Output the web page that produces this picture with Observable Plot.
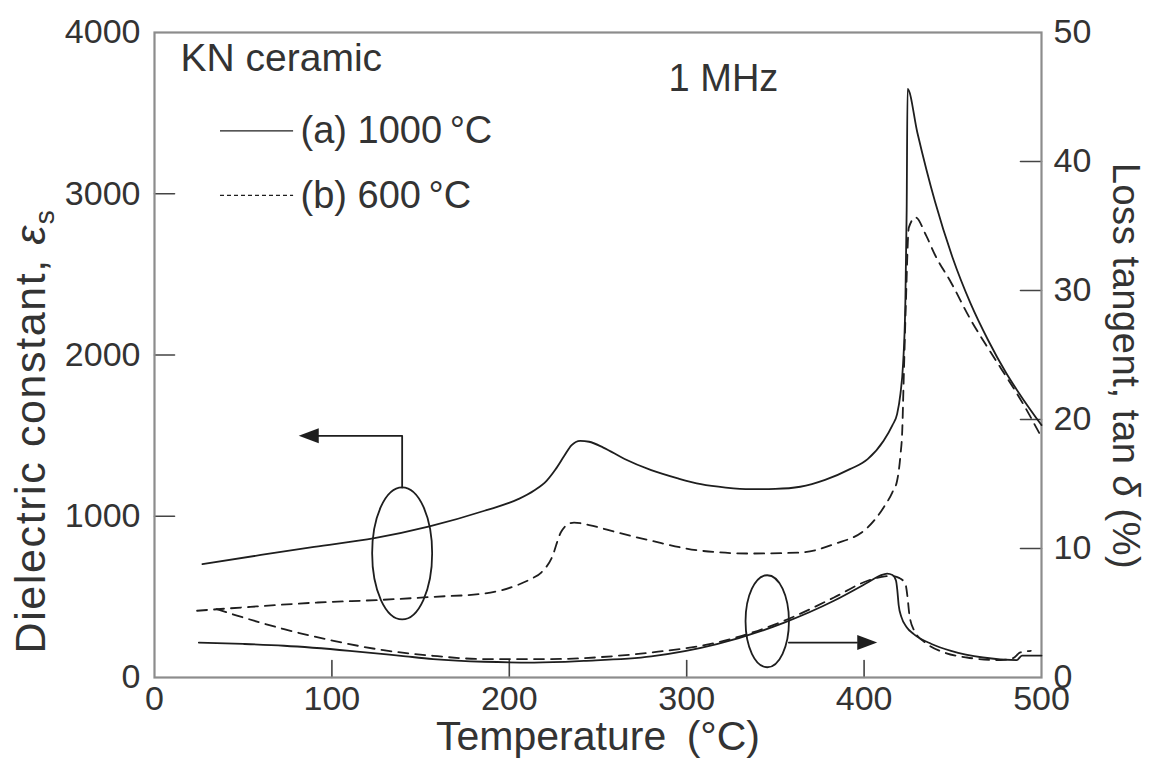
<!DOCTYPE html>
<html>
<head>
<meta charset="utf-8">
<script src="https://cdn.jsdelivr.net/npm/d3@7"></script>
<script src="https://cdn.jsdelivr.net/npm/@observablehq/plot@0.6"></script>
<style>
  body { margin: 0; background: #fff; }
</style>
</head>
<body>
<div id="chart"></div>
<script>
// KN ceramic, measured at 1 MHz: dielectric constant (left axis) and loss tangent (right axis)

// (a) sintered at 1000 °C — dielectric constant εs
const tempEpsA = [27, 60, 90, 124, 155, 186, 205, 214, 221, 226, 231, 235, 240, 245, 253, 265, 280, 295, 308, 322, 336, 350, 364, 378, 392, 402, 411, 416, 418.6, 420.5, 422, 423.2, 424, 424.5, 430, 440, 450, 460, 470, 480, 490, 500];
const epsA     = [703, 760, 810, 864, 937, 1034, 1106, 1160, 1220, 1290, 1375, 1440, 1468, 1462, 1426, 1355, 1286, 1235, 1199, 1178, 1168, 1170, 1183, 1225, 1292, 1354, 1468, 1565, 1633, 1760, 1950, 2300, 2900, 3650, 3380, 2950, 2600, 2320, 2090, 1890, 1720, 1565];

// (b) sintered at 600 °C — dielectric constant εs
const tempEpsB = [24, 54, 92, 129, 157, 186, 205, 212, 218, 224, 229, 233, 236.5, 245, 261, 280, 308, 336, 364, 383, 402, 411, 416, 418.6, 420.5, 421.5, 422.3, 423.5, 425.2, 429, 435, 440, 449, 460, 470, 477, 490, 500];
const epsB     = [414, 438, 465, 482, 500, 521, 575, 610, 651, 744, 899, 950, 961, 945, 899, 848, 786, 769, 775, 827, 930, 1054, 1150, 1220, 1380, 1530, 1840, 2300, 2790, 2853, 2740, 2620, 2450, 2220, 2040, 1920, 1690, 1490];

// (a) loss tangent tan δ (%)
const tempLossA = [25, 50, 73, 110, 139, 157, 186, 214, 242, 280, 317, 355, 383, 402, 409, 413, 416, 418, 418.7, 419.5, 421, 424, 428, 438, 449, 467, 486, 489, 500];
const lossA     = [2.71, 2.6, 2.46, 2.07, 1.68, 1.43, 1.22, 1.16, 1.29, 1.64, 2.59, 4.26, 5.95, 7.36, 7.9, 8.06, 7.95, 7.5, 6.8, 5.6, 4.7, 3.9, 3.36, 2.6, 2.07, 1.55, 1.35, 1.7, 1.7];

// (b) loss tangent tan δ (%)
const tempLossB = [35, 47, 73, 101, 129, 157, 186, 223, 261, 280, 317, 355, 383, 402, 410, 415, 420, 423.3, 424.5, 425.5, 428, 435.6, 445, 458, 477, 484, 488, 494];
const lossB     = [5.3, 4.78, 3.75, 2.84, 2.12, 1.68, 1.43, 1.43, 1.68, 1.94, 2.71, 4.4, 6.2, 7.5, 7.8, 7.88, 7.7, 7.24, 6.2, 4.9, 3.7, 2.59, 1.95, 1.55, 1.35, 1.5, 1.94, 2.07];

// Axis ticks
const tempTicks = [0, 100, 200, 300, 400, 500];
const epsTicks  = [0, 1000, 2000, 3000, 4000];
const lossTicks = [0, 10, 20, 30, 40, 50];

// Series labels
const seriesLabels = ["(a) 1000\u2009°C", "(b) 600\u2009°C"];

// Callouts: which group of curves belongs to which axis
const epsCalloutCenter  = [139.6, 770];   // temperature, εs
const epsArrowPath      = [[139.6, 1178], [139.6, 1499], [92, 1499]];
const epsArrowTip       = [81.3, 1499];
const lossCalloutCenter = [345.4, 4.36];  // temperature, tan δ (%)
const lossArrowPath     = [[357.6, 2.71], [396, 2.71]];
const lossArrowTip      = [407.4, 2.71];

// ---------------------------------------------------------------------------

const ink = "#1e1e1e";
const frameGrey = "#8c8c8c";
const textInk = "#333";
const font = "'Liberation Sans', Arial, Helvetica, sans-serif";

// tan δ (%) is drawn on the εs scale: 50 % corresponds to 4000
const lossToEps = v => v * 80;

const pairs = (xs, ys, f = v => v) => xs.map((T, i) => ({T, v: f(ys[i])}));
const curveEpsA  = pairs(tempEpsA, epsA);
const curveEpsB  = pairs(tempEpsB, epsB);
const curveLossA = pairs(tempLossA, lossA, lossToEps);
const curveLossB = pairs(tempLossB, lossB, lossToEps);

// inward tick: a plain stroke drawn from the anchor along the vector direction
const tickShape = { draw(ctx, l) { ctx.moveTo(0, 0); ctx.lineTo(0, -l); } };

// ellipse symbol with horizontal radius = aspect × vertical radius
const ellipse = aspect => ({
  draw(ctx, size) {
    const ry = Math.sqrt(size / Math.PI), rx = ry * aspect, k = 0.5523;
    ctx.moveTo(rx, 0);
    ctx.bezierCurveTo(rx, ry * k, rx * k, ry, 0, ry);
    ctx.bezierCurveTo(-rx * k, ry, -rx, ry * k, -rx, 0);
    ctx.bezierCurveTo(-rx, -ry * k, -rx * k, -ry, 0, -ry);
    ctx.bezierCurveTo(rx * k, -ry, rx, -ry * k, rx, 0);
    ctx.closePath();
  }
});

// filled arrowhead with its tip at the anchor, pointing left
const arrowHead = {
  draw(ctx, size) {
    const r = Math.sqrt(size / Math.PI);
    ctx.moveTo(0, 0);
    ctx.lineTo(2 * r, -0.75 * r);
    ctx.lineTo(2 * r, 0.75 * r);
    ctx.closePath();
  }
};

const dashed = "10,7";

const chart = Plot.plot({
  width: 1149,
  height: 771,
  marginLeft: 154,
  marginRight: 108,
  marginTop: 32,
  marginBottom: 94,
  style: { fontFamily: font, fontSize: "34px", color: textInk, background: "#fff" },
  x: { domain: [0, 500] },
  y: { domain: [0, 4000] },
  marks: [
    // tick labels
    Plot.axisX(tempTicks, { tickSize: 0, tickPadding: 8, label: null, fontSize: 34, fill: textInk, tickFormat: d => String(d) }),
    Plot.axisY(epsTicks, { anchor: "left", tickSize: 0, tickPadding: 14, label: null, fontSize: 34, fill: textInk, tickFormat: d => String(d) }),
    Plot.axisY(lossTicks.map(lossToEps), { anchor: "right", tickSize: 0, tickPadding: 12, label: null, fontSize: 34, fill: textInk, tickFormat: d => String(d / 80) }),

    // inward tick marks
    Plot.vector(tempTicks.slice(1, -1), { x: d => d, y: 0, length: 17, rotate: 0, anchor: "start", shape: tickShape, stroke: "#444", strokeWidth: 1.6 }),
    Plot.vector(epsTicks.slice(1, -1), { x: 0, y: d => d, length: 20, rotate: 90, anchor: "start", shape: tickShape, stroke: "#444", strokeWidth: 1.6 }),
    Plot.vector(lossTicks.slice(1, -1).map(lossToEps), { x: 500, y: d => d, length: 21, rotate: -90, anchor: "start", shape: tickShape, stroke: "#444", strokeWidth: 1.6 }),

    Plot.frame({ stroke: frameGrey, strokeWidth: 2.2 }),

    // dielectric constant
    Plot.line(curveEpsA, { x: "T", y: "v", curve: "monotone-x", stroke: ink, strokeWidth: 1.8 }),
    Plot.line(curveEpsB, { x: "T", y: "v", curve: "monotone-x", stroke: ink, strokeWidth: 1.8, strokeDasharray: dashed }),

    // loss tangent
    Plot.line(curveLossA, { x: "T", y: "v", curve: "monotone-x", stroke: ink, strokeWidth: 1.8 }),
    Plot.line(curveLossB, { x: "T", y: "v", curve: "monotone-x", stroke: ink, strokeWidth: 1.8, strokeDasharray: dashed }),

    // callout for the εs curves → left axis
    Plot.dot([epsCalloutCenter], { x: d => d[0], y: d => d[1], r: 66, symbol: ellipse(30 / 66), stroke: ink, strokeWidth: 1.8, fill: "none" }),
    Plot.line(epsArrowPath, { x: d => d[0], y: d => d[1], stroke: ink, strokeWidth: 1.8 }),
    Plot.dot([epsArrowTip], { x: d => d[0], y: d => d[1], r: 10, symbol: arrowHead, fill: ink, stroke: "none" }),

    // callout for the tan δ curves → right axis
    Plot.dot([lossCalloutCenter], { x: d => d[0], y: d => lossToEps(d[1]), r: 46, symbol: ellipse(21.7 / 46), stroke: ink, strokeWidth: 1.8, fill: "none" }),
    Plot.line(lossArrowPath, { x: d => d[0], y: d => lossToEps(d[1]), stroke: ink, strokeWidth: 1.8 }),
    Plot.dot([lossArrowTip], { x: d => d[0], y: d => lossToEps(d[1]), r: 10, rotate: 180, symbol: arrowHead, fill: ink, stroke: "none" }),

    // legend
    Plot.ruleY([3390], { x1: 37.2, x2: 78.4, stroke: ink, strokeWidth: 1.4 }),
    Plot.ruleY([2990], { x1: 37.2, x2: 78.4, stroke: ink, strokeWidth: 1.2, strokeDasharray: "4,3" }),
    Plot.text(seriesLabels, { x: 82.3, y: (d, i) => [3390, 2990][i], text: d => d, textAnchor: "start", fontSize: 38, fill: textInk }),

    // annotations
    Plot.text(["KN ceramic"], { x: 14.7, y: 3837, text: d => d, textAnchor: "start", fontSize: 39, fill: textInk }),
    Plot.text(["1 MHz"], { x: 320.7, y: 3713, text: d => d, textAnchor: "middle", fontSize: 38, fill: textInk }),

    // axis titles
    Plot.text(["Temperature\u2002(°C)"], { frameAnchor: "bottom", dy: 72, lineAnchor: "bottom", text: d => d, fontSize: 41, fill: textInk }),
    Plot.text(["Dielectric constant, εs"], { frameAnchor: "left", dx: -123, dy: 76, rotate: -90, textAnchor: "middle", lineAnchor: "middle", text: d => d, fontSize: 43, fill: textInk }),
    Plot.text(["Loss tangent, tan δ (%)"], { frameAnchor: "right", dx: 84, dy: 11, rotate: 90, textAnchor: "middle", lineAnchor: "middle", text: d => d, fontSize: 38, fill: textInk })
  ]
});

// typographic touches: italic Greek letters, the subscript s, and the wider tracking of the εs title
chart.querySelectorAll("text").forEach(t => {
  if (t.textContent === "Dielectric constant, εs") {
    t.innerHTML = 'Dielectric constant, <tspan font-style="italic">ε</tspan><tspan font-size="28" dy="0.3em">s</tspan>';
    t.setAttribute("letter-spacing", "1.6");
  } else if (t.textContent === "Loss tangent, tan δ (%)") {
    t.innerHTML = 'Loss tangent, tan <tspan font-style="italic">δ</tspan> (%)';
    t.setAttribute("letter-spacing", "0.6");
  }
});

document.getElementById("chart").appendChild(chart);
</script>
</body>
</html>
